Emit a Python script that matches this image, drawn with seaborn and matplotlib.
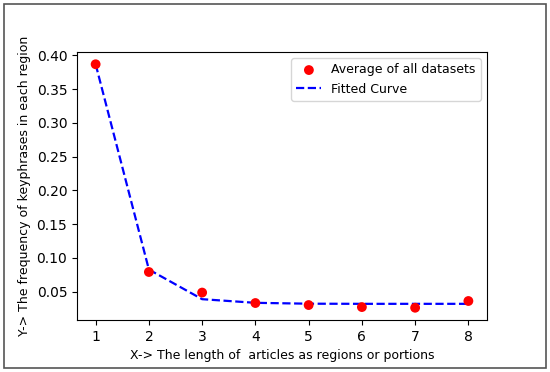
import numpy as np
import pandas as pd
import matplotlib
matplotlib.use("Agg")
import matplotlib.pyplot as plt
import seaborn as sns
from matplotlib.patches import Rectangle

# Data
regions = [1, 2, 3, 4, 5, 6, 7, 8]
avg_freq = [0.387, 0.079, 0.0485, 0.033, 0.030, 0.027, 0.026, 0.036]
fitted = [0.387, 0.0826, 0.0387, 0.0333, 0.0320, 0.0318, 0.0318, 0.0318]

df = pd.DataFrame({"x": regions, "avg": avg_freq, "fit": fitted})

plt.rcParams['font.family'] = ['DejaVu Sans']
fig = plt.figure(figsize=(5.5, 3.72), dpi=100)
ax = fig.add_axes([0.140, 0.140, 0.7455, 0.720])

sns.scatterplot(data=df, x="x", y="avg", ax=ax, color="red", s=50,
                edgecolor="none", label="Average of all datasets", zorder=3)
sns.lineplot(data=df, x="x", y="fit", ax=ax, color="blue", linestyle="--",
             linewidth=1.6, label="Fitted Curve", zorder=2)

ax.set_xticks(regions)
ax.set_yticks([0.05, 0.10, 0.15, 0.20, 0.25, 0.30, 0.35, 0.40])
ax.set_yticklabels([f"{v:.2f}" for v in ax.get_yticks()])
ax.tick_params(labelsize=10)
ax.set_xlabel("X-> The length of  articles as regions or portions", fontsize=9)
ax.set_ylabel("Y-> The frequency of keyphrases in each region", fontsize=9)
ax.legend(loc="upper right", fontsize=9)

# outer frame around the figure
fig.patches.append(Rectangle((0.007, 0.01), 0.986, 0.98, transform=fig.transFigure,
                             fill=False, edgecolor="#555555", linewidth=1.2))

fig.savefig("out.png", dpi=100)
